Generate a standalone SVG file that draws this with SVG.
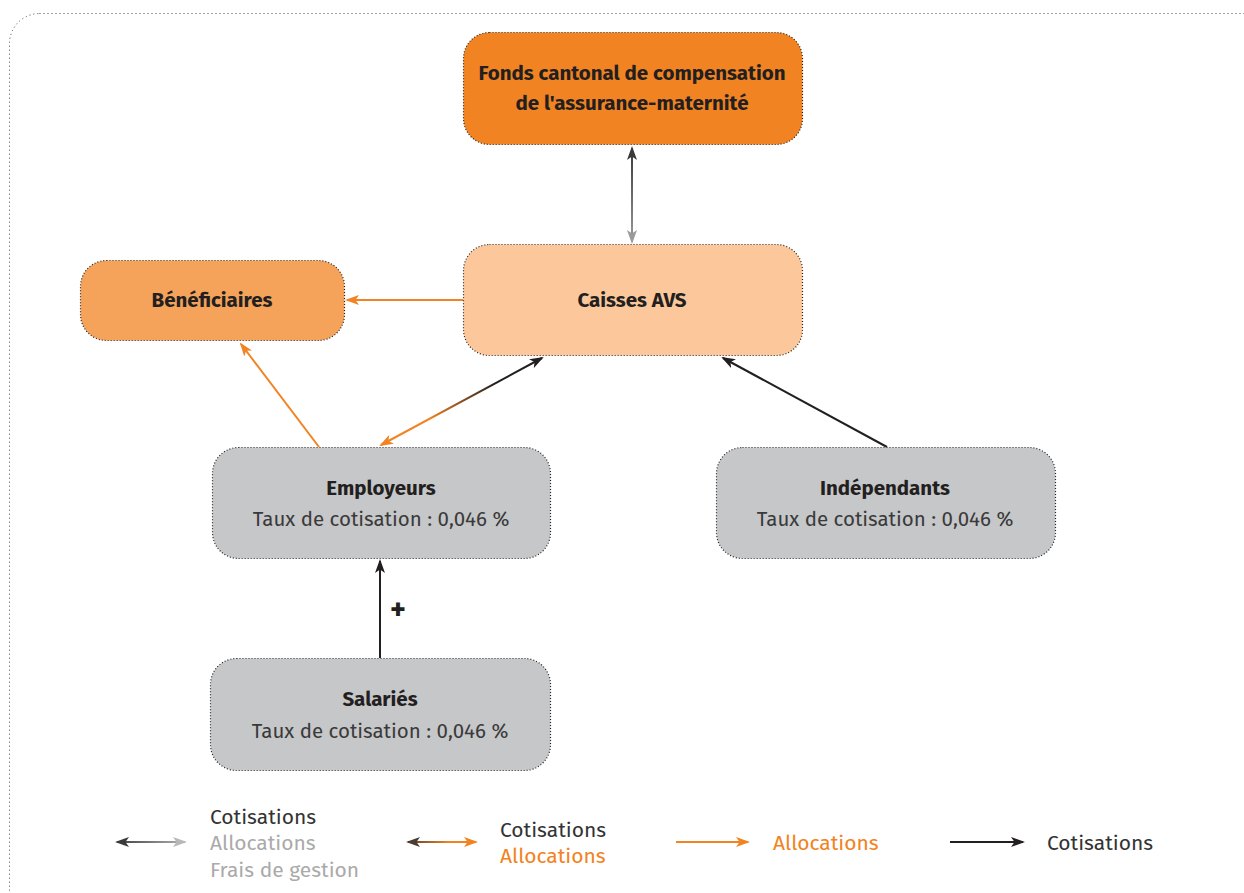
<svg xmlns="http://www.w3.org/2000/svg" width="1244" height="893" viewBox="0 0 1244 893">
<style>
.node{stroke:#222;stroke-width:1.2;stroke-dasharray:1 2}
.t{font-family:"Fira Sans","Noto Sans","Open Sans",sans-serif;text-anchor:middle;fill:#231f20}
.b{font-weight:bold;font-size:20.5px}
.r{font-size:20.5px;fill:#3a3a3a}
.lg{font-family:"Fira Sans","Noto Sans","Open Sans",sans-serif;font-size:21px}
.ln{fill:none;stroke-width:2}
</style>
<defs>
<marker id="aBlack" viewBox="0 0 14 10" refX="12" refY="5" markerWidth="14" markerHeight="10" markerUnits="userSpaceOnUse" orient="auto-start-reverse"><path d="M0,0 L14,5 L0,10 L3.5,5 z" fill="#231f20"/></marker>
<marker id="aOrange" viewBox="0 0 14 10" refX="12" refY="5" markerWidth="14" markerHeight="10" markerUnits="userSpaceOnUse" orient="auto-start-reverse"><path d="M0,0 L14,5 L0,10 L3.5,5 z" fill="#f28322"/></marker>
<marker id="aDark" viewBox="0 0 14 10" refX="12" refY="5" markerWidth="14" markerHeight="10" markerUnits="userSpaceOnUse" orient="auto-start-reverse"><path d="M0,0 L14,5 L0,10 L3.5,5 z" fill="#3a3a3a"/></marker>
<marker id="aGray" viewBox="0 0 14 10" refX="12" refY="5" markerWidth="14" markerHeight="10" markerUnits="userSpaceOnUse" orient="auto-start-reverse"><path d="M0,0 L14,5 L0,10 L3.5,5 z" fill="#9a9a9a"/></marker>
<marker id="aLight" viewBox="0 0 14 10" refX="12" refY="5" markerWidth="14" markerHeight="10" markerUnits="userSpaceOnUse" orient="auto-start-reverse"><path d="M0,0 L14,5 L0,10 L3.5,5 z" fill="#b8b8b8"/></marker>
<marker id="aBrown" viewBox="0 0 14 10" refX="12" refY="5" markerWidth="14" markerHeight="10" markerUnits="userSpaceOnUse" orient="auto-start-reverse"><path d="M0,0 L14,5 L0,10 L3.5,5 z" fill="#4a3c33"/></marker>
<linearGradient id="gV" gradientUnits="userSpaceOnUse" x1="632" y1="148" x2="632" y2="242"><stop offset="0" stop-color="#3a3a3a"/><stop offset="1" stop-color="#9a9a9a"/></linearGradient>
<linearGradient id="gE" gradientUnits="userSpaceOnUse" x1="380" y1="446" x2="543" y2="357"><stop offset="0" stop-color="#f28322"/><stop offset="0.3" stop-color="#f28322"/><stop offset="0.7" stop-color="#231f20"/><stop offset="1" stop-color="#231f20"/></linearGradient>
<linearGradient id="gL1" gradientUnits="userSpaceOnUse" x1="114" y1="0" x2="188" y2="0"><stop offset="0" stop-color="#3a3a3a"/><stop offset="1" stop-color="#b8b8b8"/></linearGradient>
<linearGradient id="gL2" gradientUnits="userSpaceOnUse" x1="405" y1="0" x2="479" y2="0"><stop offset="0" stop-color="#4a3c33"/><stop offset="0.6" stop-color="#f28322"/><stop offset="1" stop-color="#f28322"/></linearGradient>
</defs>

<rect x="9.5" y="13.5" width="1262" height="905" rx="30" fill="none" stroke="#444" stroke-width="1" stroke-dasharray="1 3"/>

<g id="connectors">
<line class="ln" x1="632" y1="148" x2="632" y2="242" stroke="url(#gV)" marker-start="url(#aDark)" marker-end="url(#aGray)"/>
<line class="ln" x1="463" y1="300" x2="347" y2="300" stroke="#f28322" marker-end="url(#aOrange)"/>
<line class="ln" x1="319" y1="447" x2="241" y2="344" stroke="#f28322" marker-end="url(#aOrange)"/>
<line class="ln" x1="381" y1="445" x2="542" y2="358" stroke="url(#gE)" marker-start="url(#aOrange)" marker-end="url(#aBlack)"/>
<line class="ln" x1="887" y1="447" x2="723" y2="358" stroke="#231f20" marker-end="url(#aBlack)"/>
<line class="ln" x1="380" y1="658" x2="380" y2="561" stroke="#231f20" marker-end="url(#aBlack)"/>
<text class="t" x="398" y="620" style="font-weight:bold;font-size:30px">+</text>
</g>

<g id="fonds">
<rect class="node" x="463.5" y="32.5" width="339" height="112" rx="26" fill="#f28322"/>
<text class="t b" x="632" y="80">Fonds cantonal de compensation</text>
<text class="t b" x="632" y="110">de l'assurance-maternité</text>
</g>
<g id="caisses">
<rect class="node" x="463.5" y="244.5" width="339" height="111" rx="26" fill="#fcc89b"/>
<text class="t b" x="632" y="307">Caisses AVS</text>
</g>
<g id="beneficiaires">
<rect class="node" x="80.5" y="260.5" width="264" height="80" rx="26" fill="#f5a35b"/>
<text class="t b" x="212" y="307">Bénéficiaires</text>
</g>
<g id="employeurs">
<rect class="node" x="212.5" y="447.5" width="338" height="111" rx="26" fill="#c6c7c9"/>
<text class="t b" x="381" y="495">Employeurs</text>
<text class="t r" x="381" y="526">Taux de cotisation : 0,046 %</text>
</g>
<g id="independants">
<rect class="node" x="716.5" y="447.5" width="339" height="111" rx="26" fill="#c6c7c9"/>
<text class="t b" x="885" y="495">Indépendants</text>
<text class="t r" x="885" y="526">Taux de cotisation : 0,046 %</text>
</g>
<g id="salaries">
<rect class="node" x="210.5" y="658.5" width="340" height="112" rx="26" fill="#c6c7c9"/>
<text class="t b" x="380" y="706">Salariés</text>
<text class="t r" x="380" y="738">Taux de cotisation : 0,046 %</text>
</g>

<g id="legend">
<line class="ln" x1="117" y1="842" x2="185" y2="842" stroke="url(#gL1)" marker-start="url(#aDark)" marker-end="url(#aLight)"/>
<text class="lg" x="210" y="824" fill="#333">Cotisations</text>
<text class="lg" x="210" y="850" fill="#aaa">Allocations</text>
<text class="lg" x="210" y="877" fill="#aaa">Frais de gestion</text>
<line class="ln" x1="408" y1="842" x2="476" y2="842" stroke="url(#gL2)" marker-start="url(#aBrown)" marker-end="url(#aOrange)"/>
<text class="lg" x="500" y="837" fill="#333">Cotisations</text>
<text class="lg" x="500" y="863" fill="#f28322">Allocations</text>
<line class="ln" x1="676" y1="842" x2="748" y2="842" stroke="#f28322" marker-end="url(#aOrange)"/>
<text class="lg" x="773" y="850" fill="#f28322">Allocations</text>
<line class="ln" x1="950" y1="842" x2="1023" y2="842" stroke="#231f20" marker-end="url(#aBlack)"/>
<text class="lg" x="1047" y="850" fill="#333">Cotisations</text>
</g>
</svg>
